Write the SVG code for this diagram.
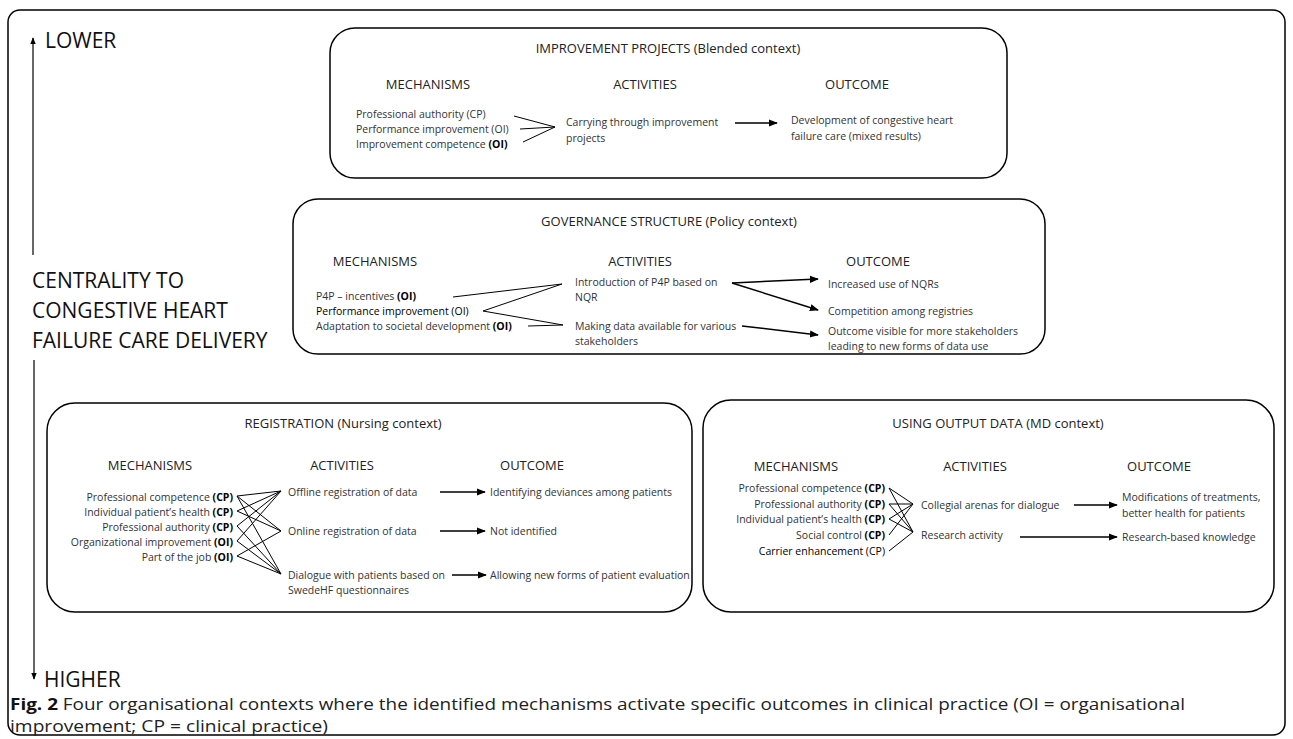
<svg xmlns="http://www.w3.org/2000/svg" width="1293" height="739" viewBox="0 0 1293 739">
<style>
text{font-family:"Open Sans","Liberation Sans",sans-serif;fill:#222}
.box{fill:none;stroke:#000;stroke-width:1.5}
.ttl{font-size:13px;text-anchor:middle}
.hd{font-size:13px;text-anchor:middle}
.it{font-size:10.5px;fill:#333}
.r{text-anchor:end}
.b{font-weight:bold;fill:#000}
.k{fill:#000}
.big{font-size:21px;fill:#111}
.cap{font-size:16px;fill:#222}
.ln{stroke:#000;stroke-width:1;fill:none}
.ar{stroke:#000;stroke-width:1.5;fill:none;marker-end:url(#ah)}
</style>
<defs>
<marker id="ah" viewBox="0 0 10 10" refX="9" refY="5" markerWidth="6" markerHeight="6" orient="auto" markerUnits="strokeWidth">
<path d="M0,1 L10,5 L0,9 z" fill="#000"/>
</marker>
<marker id="ah2" viewBox="0 0 10 10" refX="9" refY="5" markerWidth="7" markerHeight="7" orient="auto" markerUnits="userSpaceOnUse">
<path d="M0,1 L10,5 L0,9 z" fill="#000"/>
</marker>
</defs>
<rect x="8" y="10" width="1277" height="725" rx="12" fill="#fff" stroke="#000" stroke-width="1.5"/>

<g id="axis">
<line x1="33" y1="255" x2="33" y2="38" stroke="#000" stroke-width="1.2" marker-end="url(#ah2)"/>
<line x1="34" y1="360" x2="34" y2="679" stroke="#000" stroke-width="1.2" marker-end="url(#ah2)"/>
<text class="big" x="45" y="48">LOWER</text>
<text class="big" x="32" y="288">CENTRALITY TO</text>
<text class="big" x="32" y="318">CONGESTIVE HEART</text>
<text class="big" x="32" y="348">FAILURE CARE DELIVERY</text>
<text class="big" x="44" y="687">HIGHER</text>
</g>

<g id="improvement-projects">
<rect class="box" x="330" y="28" width="677" height="150" rx="25"/>
<text class="ttl" x="668" y="53">IMPROVEMENT PROJECTS (Blended context)</text>
<text class="hd" x="428" y="89">MECHANISMS</text>
<text class="hd" x="645" y="89">ACTIVITIES</text>
<text class="hd" x="857" y="89">OUTCOME</text>
<text class="it" x="356" y="118">Professional authority (CP)</text>
<text class="it" x="356" y="133">Performance improvement (OI)</text>
<text class="it" x="356" y="148">Improvement competence <tspan class="b">(OI)</tspan></text>
<text class="it" x="566" y="126">Carrying through improvement</text>
<text class="it" x="566" y="142">projects</text>
<text class="it" x="791" y="124">Development of congestive heart</text>
<text class="it" x="791" y="140">failure care (mixed results)</text>
</g>

<g id="governance-structure">
<rect class="box" x="293" y="199" width="752" height="155" rx="25"/>
<text class="ttl" x="669" y="226">GOVERNANCE STRUCTURE (Policy context)</text>
<text class="hd" x="375" y="266">MECHANISMS</text>
<text class="hd" x="640" y="266">ACTIVITIES</text>
<text class="hd" x="878" y="266">OUTCOME</text>
<text class="it" x="316" y="300">P4P – incentives <tspan class="b">(OI)</tspan></text>
<text class="it k" x="316" y="315">Performance improvement (OI)</text>
<text class="it" x="316" y="330">Adaptation to societal development <tspan class="b">(OI)</tspan></text>
<text class="it" x="575" y="286">Introduction of P4P based on</text>
<text class="it" x="575" y="301">NQR</text>
<text class="it" x="575" y="330">Making data available for various</text>
<text class="it" x="575" y="345">stakeholders</text>
<text class="it" x="828" y="288">Increased use of NQRs</text>
<text class="it" x="828" y="315">Competition among registries</text>
<text class="it" x="828" y="335">Outcome visible for more stakeholders</text>
<text class="it" x="828" y="350">leading to new forms of data use</text>
</g>

<g id="registration">
<rect class="box" x="47" y="403" width="645" height="209" rx="28"/>
<text class="ttl" x="343" y="428">REGISTRATION (Nursing context)</text>
<text class="hd" x="150" y="470">MECHANISMS</text>
<text class="hd" x="342" y="470">ACTIVITIES</text>
<text class="hd" x="532" y="470">OUTCOME</text>
<text class="it r" x="233" y="501">Professional competence <tspan class="b">(CP)</tspan></text>
<text class="it r" x="233" y="516">Individual patient’s health <tspan class="b">(CP)</tspan></text>
<text class="it r" x="233" y="531">Professional authority <tspan class="b">(CP)</tspan></text>
<text class="it r" x="233" y="546">Organizational improvement <tspan class="b">(OI)</tspan></text>
<text class="it r" x="233" y="561">Part of the job <tspan class="b">(OI)</tspan></text>
<text class="it" x="288" y="496">Offline registration of data</text>
<text class="it" x="288" y="535">Online registration of data</text>
<text class="it" x="288" y="579">Dialogue with patients based on</text>
<text class="it" x="288" y="594">SwedeHF questionnaires</text>
<text class="it" x="490" y="496">Identifying deviances among patients</text>
<text class="it" x="490" y="535">Not identified</text>
<text class="it" x="490" y="579">Allowing new forms of patient evaluation</text>
</g>

<g id="using-output-data">
<rect class="box" x="703" y="400" width="571" height="212" rx="28"/>
<text class="ttl" x="998" y="428">USING OUTPUT DATA (MD context)</text>
<text class="hd" x="796" y="471">MECHANISMS</text>
<text class="hd" x="975" y="471">ACTIVITIES</text>
<text class="hd" x="1159" y="471">OUTCOME</text>
<text class="it r" x="885" y="492">Professional competence <tspan class="b">(CP)</tspan></text>
<text class="it r" x="885" y="508">Professional authority <tspan class="b">(CP)</tspan></text>
<text class="it r" x="885" y="523">Individual patient’s health <tspan class="b">(CP)</tspan></text>
<text class="it r" x="885" y="539">Social control <tspan class="b">(CP)</tspan></text>
<text class="it r k" x="885" y="555">Carrier enhancement (CP)</text>
<text class="it" x="921" y="509">Collegial arenas for dialogue</text>
<text class="it" x="921" y="539">Research activity</text>
<text class="it" x="1122" y="501">Modifications of treatments,</text>
<text class="it" x="1122" y="517">better health for patients</text>
<text class="it" x="1122" y="541">Research-based knowledge</text>
</g>

<g id="connectors">
<path class="ln" d="M514,116 L555,127 M520,129 L555,127 M523,142 L555,127"/>
<line class="ar" x1="735" y1="123" x2="777" y2="123"/>
<path class="ln" d="M453,297 L562,284 M483,311 L562,284 M483,311 L563,325 M528,326 L563,325"/>
<line class="ar" x1="732" y1="283" x2="818" y2="279"/>
<line class="ar" x1="732" y1="283" x2="818" y2="310"/>
<line class="ar" x1="742" y1="326" x2="818" y2="335"/>
<path class="ln" d="M237,496 L281,491 M237,496 L281,531 M237,496 L281,574 M237,511 L281,491 M237,511 L281,531 M237,526 L281,491 M237,526 L281,574 M237,541 L281,491 M237,541 L281,574 M237,556 L281,531 M237,556 L281,574"/>
<line class="ar" x1="440" y1="492" x2="485" y2="492"/>
<line class="ar" x1="440" y1="531" x2="485" y2="531"/>
<line class="ar" x1="452" y1="575" x2="486" y2="575"/>
<path class="ln" d="M889,488 L913,504 M889,488 L913,532 M889,504 L913,504 M889,504 L913,532 M889,519 L913,504 M889,519 L913,532 M889,535 L913,504 M889,551 L913,532"/>
<line class="ar" x1="1074" y1="505" x2="1117" y2="505"/>
<line class="ar" x1="1020" y1="537" x2="1117" y2="537"/>
</g>

<g id="caption">
<text class="cap" x="10" y="710" textLength="1175" lengthAdjust="spacingAndGlyphs"><tspan font-weight="bold" fill="#111">Fig. 2</tspan> Four organisational contexts where the identified mechanisms activate specific outcomes in clinical practice (OI = organisational</text>
<text class="cap" x="10" y="732" textLength="318" lengthAdjust="spacingAndGlyphs">improvement; CP = clinical practice)</text>
</g>
</svg>
